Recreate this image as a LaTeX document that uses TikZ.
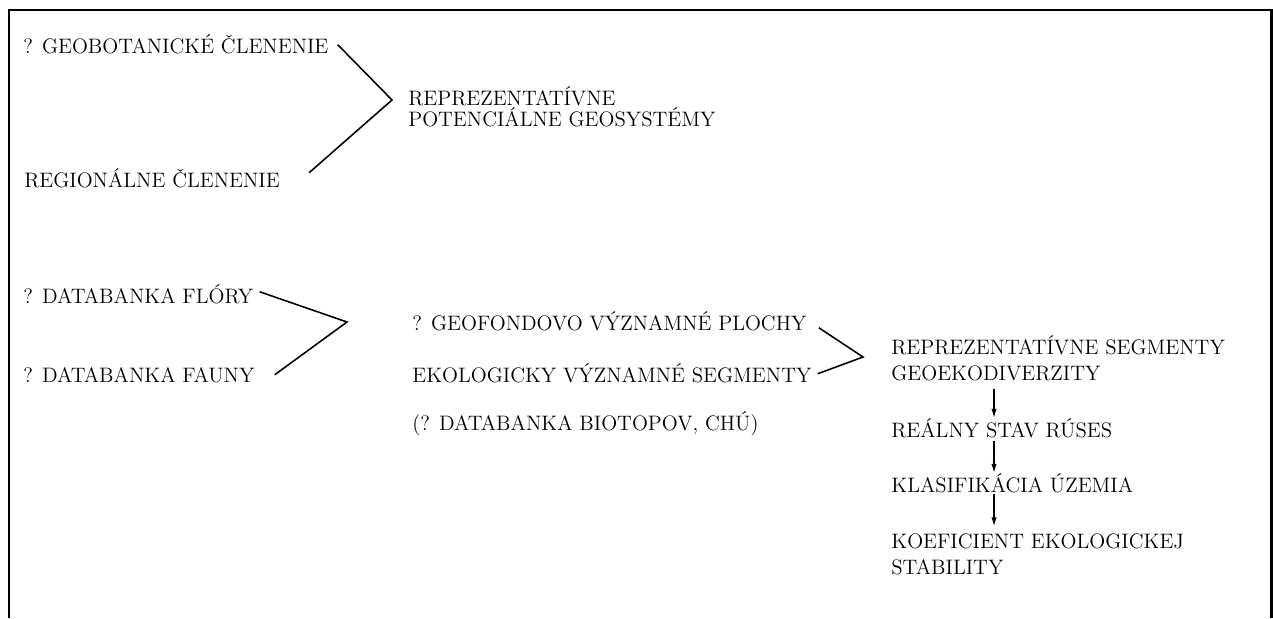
\documentclass[tikz,border=0pt]{standalone}
\usepackage{tikz}
\usetikzlibrary{arrows.meta}

\newcommand{\tightfont}{\fontsize{11.9}{12}\selectfont\lineskiplimit=-20pt\relax}
\newcommand{\widefont}{\fontsize{11.9}{14.7}\selectfont\lineskiplimit=-20pt\relax}

\begin{document}
\begin{tikzpicture}[x=0.02cm,y=-0.02cm,
  txt/.style={anchor=base west,inner sep=0pt,align=left,font=\tightfont},
  wide/.style={font=\widefont},
  bracket/.style={line width=0.9pt},
  flow/.style={-{Latex[length=5pt,width=3pt]},line width=0.6pt}]
  \useasboundingbox (0,0) rectangle (1273,618);

  % Frame
  \draw[line width=1.7pt] (9,618) -- (9,10) -- (1271,10) -- (1271,618);

  % Potential geosystems
  \node[txt] (geo) at (23,54) {? GEOBOTANICKÉ ČLENENIE};
  \node[txt] (reg) at (24,188) {REGIONÁLNE ČLENENIE};
  \node[txt] (rpg) at (408,127) {REPREZENTATÍVNE\\POTENCIÁLNE GEOSYSTÉMY};
  \coordinate (tipA) at (392,100);
  \draw[bracket] ([shift={(9,0)}]geo.east) -- (tipA) -- ([shift={(29,-6)}]reg.east);

  % Databanks
  \node[txt] (flo) at (23,303) {? DATABANKA FLÓRY};
  \node[txt] (fau) at (23,382) {? DATABANKA FAUNY};
  \coordinate (tipB) at (347,322);
  \draw[bracket] ([shift={(6,-2)}]flo.east) -- (tipB) -- ([shift={(20,0)}]fau.east);

  % Significant areas
  \node[txt] (gfv) at (412,330) {? GEOFONDOVO VÝZNAMNÉ PLOCHY};
  \node[txt] (eko) at (412,382) {EKOLOGICKY VÝZNAMNÉ SEGMENTY};
  \node[txt] (bio) at (412,430) {(? DATABANKA BIOTOPOV, CHÚ)};
  \coordinate (tipC) at (863,357);
  \draw[bracket] ([shift={(12,7)}]gfv.east) -- (tipC) -- ([shift={(6,1)}]eko.east);

  % Chain
  \node[txt,wide] (rsg) at (891,380) {REPREZENTATÍVNE SEGMENTY\\GEOEKODIVERZITY};
  \node[txt] (rea) at (891,437) {REÁLNY STAV RÚSES};
  \node[txt] (kla) at (891,492) {KLASIFIKÁCIA ÚZEMIA};
  \node[txt,wide] (koe) at (891,574) {KOEFICIENT EKOLOGICKEJ\\STABILITY};
  \coordinate (axis) at (994,0);
  \draw[flow,shorten <=4.5pt] (rsg.south -| axis) -- (rea.north -| axis);
  \draw[flow,shorten <=1.7pt] (rea.south -| axis) -- (kla.north -| axis);
  \draw[flow,shorten <=0.6pt,shorten >=4pt] (kla.south -| axis) -- (koe.north -| axis);

\end{tikzpicture}
\end{document}
